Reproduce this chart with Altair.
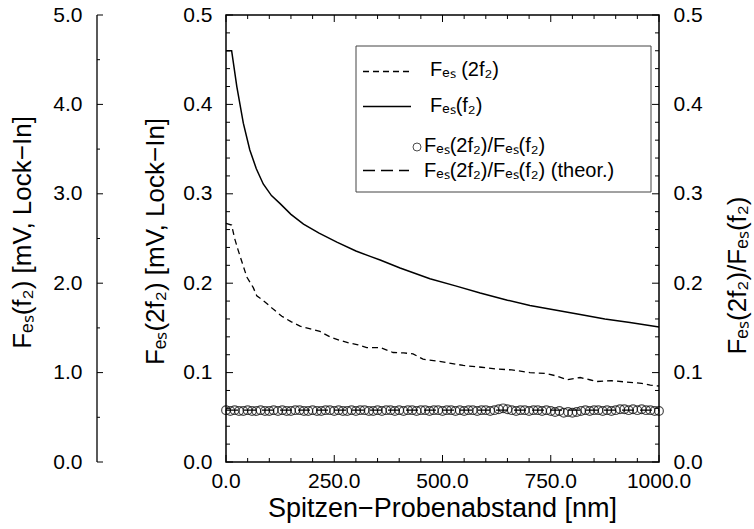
import altair as alt
import pandas as pd

# ---------------- data ----------------
dist_f2 = [0, 13, 25, 40, 55, 70, 86, 105, 125, 150, 179, 215, 256, 300, 333, 356,
           402, 471, 530, 587, 650, 702, 760, 818, 875, 933, 1000]
fes_f2_mV = [4.60, 4.60, 4.20, 3.79, 3.49, 3.28, 3.11, 2.98, 2.89, 2.77, 2.66, 2.56,
             2.46, 2.36, 2.30, 2.26, 2.17, 2.05, 1.97, 1.89, 1.81, 1.75, 1.70, 1.65,
             1.60, 1.56, 1.51]

dist_2f2 = [0, 13, 20, 28, 38, 48, 63, 71, 90, 109, 129, 150, 171, 195, 217, 240, 263,
            286, 305, 325, 356, 386, 410, 432, 455, 500, 548, 590, 625, 660, 702, 740,
            765, 787, 818, 840, 856, 890, 933, 960, 980, 1000]
fes_2f2 = [0.267, 0.265, 0.250, 0.237, 0.222, 0.207, 0.195, 0.186, 0.179, 0.171, 0.163,
           0.157, 0.152, 0.149, 0.146, 0.140, 0.136, 0.133, 0.131, 0.128, 0.128, 0.1225,
           0.122, 0.121, 0.115, 0.112, 0.108, 0.106, 0.104, 0.103, 0.100, 0.099, 0.096,
           0.092, 0.0945, 0.092, 0.090, 0.091, 0.089, 0.088, 0.086, 0.085]

dist_ratio = list(range(0, 1001, 10))
ratio = [0.058, 0.057, 0.058, 0.057, 0.057, 0.058, 0.057, 0.057, 0.058, 0.057,
         0.057, 0.058, 0.057, 0.058, 0.057, 0.057, 0.058, 0.058, 0.057, 0.057,
         0.058, 0.057, 0.057, 0.058, 0.058, 0.057, 0.058, 0.057, 0.057, 0.058,
         0.057, 0.058, 0.058, 0.057, 0.057, 0.058, 0.057, 0.058, 0.058, 0.057,
         0.058, 0.057, 0.058, 0.058, 0.057, 0.058, 0.058, 0.057, 0.058, 0.058,
         0.057, 0.058, 0.058, 0.057, 0.058, 0.057, 0.058, 0.058, 0.057, 0.058,
         0.058, 0.057, 0.058, 0.059, 0.060, 0.059, 0.058, 0.057, 0.058, 0.058,
         0.057, 0.058, 0.058, 0.057, 0.058, 0.057, 0.056, 0.057, 0.055, 0.056,
         0.055, 0.056, 0.057, 0.058, 0.057, 0.058, 0.058, 0.057, 0.058, 0.057,
         0.058, 0.059, 0.059, 0.058, 0.059, 0.058, 0.059, 0.058, 0.058, 0.057,
         0.057]

theor_dist = [0, 1000]
theor_ratio = [0.058, 0.058]

x_major = [0, 250, 500, 750, 1000]
x_minor = [v for v in range(0, 1001, 50) if v not in x_major]
y_major = [0.0, 0.1, 0.2, 0.3, 0.4, 0.5]
y_minor = [0.02, 0.04, 0.06, 0.08, 0.12, 0.14, 0.16, 0.18, 0.22, 0.24, 0.26, 0.28,
           0.32, 0.34, 0.36, 0.38, 0.42, 0.44, 0.46, 0.48]
outer_major = [0.0, 1.0, 2.0, 3.0, 4.0, 5.0]
outer_minor = [0.5, 1.5, 2.5, 3.5, 4.5]

legend_labels = ["Fₑₛ (2f₂)", "Fₑₛ(f₂)", "Fₑₛ(2f₂)/Fₑₛ(f₂)", "Fₑₛ(2f₂)/Fₑₛ(f₂) (theor.)"]
title_x = "Spitzen−Probenabstand [nm]"
title_outer = "Fₑₛ(f₂) [mV, Lock−In]"
title_main = "Fₑₛ(2f₂) [mV, Lock−In]"
title_right = "Fₑₛ(2f₂)/Fₑₛ(f₂)"

# ---------------- layout ----------------
W, H = 433, 447
FONT = "Liberation Sans"

XS = alt.Scale(domain=[0, 1000], nice=False, zero=False)


def ys(top):
    return alt.Scale(domain=[0, top], nice=False, zero=True)


df_f2 = pd.DataFrame({"d": dist_f2, "v": fes_f2_mV})
df_2f2 = pd.DataFrame({"d": dist_2f2, "v": fes_2f2})
df_ratio = pd.DataFrame({"d": dist_ratio, "v": ratio})
df_theor = pd.DataFrame({"d": theor_dist, "v": theor_ratio})

common_axis = dict(ticks=False, tickSize=0, domain=False, grid=False, labelFont=FONT,
                   labelFontSize=21, labelColor="black", titleFont=FONT,
                   titleFontSize=26, titleFontWeight="normal", titleColor="black",
                   labelOverlap=False, format=".1f")

# dashed Fes(2f2), carries main left axis
dashed = alt.Chart(df_2f2).mark_line(color="black", strokeWidth=1.3, strokeDash=[6, 4]).encode(
    x=alt.X("d:Q", scale=XS, axis=None),
    y=alt.Y("v:Q", scale=ys(0.5), axis=alt.Axis(orient="left", values=y_major, labelPadding=14,
                                               title=title_main, titleX=-71, titleY=226,
                                               titleAngle=270, titleBaseline="middle",
                                               **common_axis)),
)

# solid Fes(f2) in mV, carries outer left axis
solid = alt.Chart(df_f2).mark_line(color="black", strokeWidth=1.5).encode(
    x=alt.X("d:Q", scale=XS, axis=None),
    y=alt.Y("v:Q", scale=ys(5), axis=alt.Axis(orient="left", offset=129, values=outer_major,
                                             labelPadding=15, title=title_outer, titleX=-75,
                                             titleY=217, titleAngle=270,
                                             titleBaseline="middle", **common_axis)),
)

theor = alt.Chart(df_theor).mark_line(color="black", strokeWidth=1.3, strokeDash=[12, 6]).encode(
    x=alt.X("d:Q", scale=XS, axis=None),
    y=alt.Y("v:Q", scale=ys(0.5), axis=None),
)

circles = alt.Chart(df_ratio).mark_point(shape="circle", filled=False, color="black",
                                         size=76, strokeWidth=1.2).encode(
    x=alt.X("d:Q", scale=XS, axis=None),
    y=alt.Y("v:Q", scale=ys(0.5), axis=alt.Axis(orient="right", values=y_major, labelPadding=14,
                                               title=title_right, titleX=78, titleY=260,
                                               titleAngle=270, titleBaseline="middle",
                                               **common_axis)),
)

# x tick labels and title (drawn through the x scale)
x_labels = alt.Chart(pd.DataFrame({"d": x_major})).mark_text(
    baseline="top", align="center", font=FONT, fontSize=21, color="black"
).encode(
    x=alt.X("d:Q", scale=XS, axis=None),
    y=alt.value(H + 9),
    text=alt.Text("d:Q", format=".1f"),
)
x_title = alt.Chart(pd.DataFrame({"t": [title_x]})).mark_text(
    baseline="middle", align="center", font=FONT, fontSize=27, color="black"
).encode(x=alt.value(W / 2), y=alt.value(H + 47), text="t:N")


def yticks(vals, top, x0, x1):
    return alt.Chart(pd.DataFrame({"v": vals})).mark_rule(color="black", strokeWidth=1).encode(
        x=alt.value(x0), x2=alt.value(x1),
        y=alt.Y("v:Q", scale=ys(top), axis=None),
    )


def xticks(vals, y0, y1):
    return alt.Chart(pd.DataFrame({"d": vals})).mark_rule(color="black", strokeWidth=1).encode(
        x=alt.X("d:Q", scale=XS, axis=None),
        y=alt.value(y0), y2=alt.value(y1),
    )


tick_layers = [
    yticks(y_major, 0.5, 0, 7), yticks(y_minor, 0.5, 0, 4),
    yticks(y_major, 0.5, W, W - 7), yticks(y_minor, 0.5, W, W - 4),
    yticks(outer_major, 5, -129, -123), yticks(outer_minor, 5, -129, -126),
    xticks(x_major, H, H - 7), xticks(x_minor, H, H - 4),
    xticks(x_major, 0, 7), xticks(x_minor, 0, 4),
]

one = pd.DataFrame({"k": [0]})
outer_line = alt.Chart(one).mark_rule(color="black", strokeWidth=1.3).encode(
    x=alt.value(-129), y=alt.value(0), y2=alt.value(H))

# ---------------- legend ----------------
legend_box = alt.Chart(one).mark_rect(fill="white", stroke="#444", strokeWidth=1).encode(
    x=alt.value(130), x2=alt.value(425), y=alt.value(31), y2=alt.value(177))
leg_dash = alt.Chart(one).mark_rule(color="black", strokeWidth=1.3, strokeDash=[6, 4]).encode(
    x=alt.value(137), x2=alt.value(185), y=alt.value(56.5))
leg_solid = alt.Chart(one).mark_rule(color="black", strokeWidth=1.5).encode(
    x=alt.value(137), x2=alt.value(185), y=alt.value(91.5))
leg_circle = alt.Chart(one).mark_point(shape="circle", filled=False, color="black", size=64,
                                       strokeWidth=1).encode(x=alt.value(191), y=alt.value(132))
leg_theor = alt.Chart(one).mark_rule(color="black", strokeWidth=1.3, strokeDash=[12, 6]).encode(
    x=alt.value(137), x2=alt.value(183), y=alt.value(155.5))

leg_pos = [(204, 55), (204, 91), (198, 131), (198, 156)]
leg_texts = []
for lab, (tx, ty) in zip(legend_labels, leg_pos):
    leg_texts.append(
        alt.Chart(pd.DataFrame({"t": [lab]})).mark_text(
            align="left", baseline="middle", font=FONT, fontSize=20, color="black"
        ).encode(x=alt.value(tx), y=alt.value(ty), text="t:N")
    )

chart = alt.layer(
    dashed, solid, circles, theor, *tick_layers, outer_line, x_labels, x_title,
    legend_box, leg_dash, leg_solid, leg_circle, leg_theor, *leg_texts,
).resolve_scale(y="independent").properties(
    width=W, height=H,
    autosize=alt.AutoSizeParams(type="none"),
    padding={"left": 226, "top": 15, "right": 754 - 226 - W, "bottom": 529 - 15 - H},
    background="white",
).configure_view(stroke="black", strokeWidth=1.5)

chart.save("out.html", embed_options={"renderer": "svg", "actions": False})
